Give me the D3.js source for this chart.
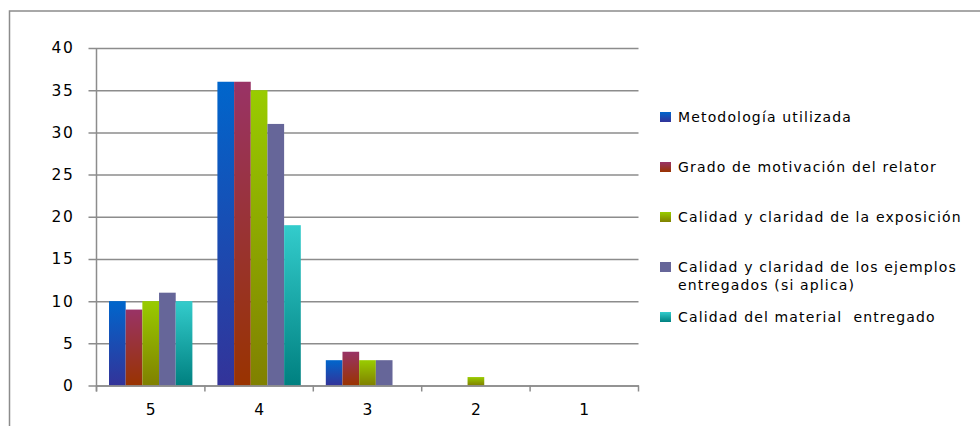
<!DOCTYPE html>
<html>
<head>
<meta charset="utf-8">
<script src="https://cdn.jsdelivr.net/npm/d3@7"></script>
<style>
  html, body { margin: 0; padding: 0; background: #fff; }
  svg { display: block; }
  text { font-family: "DejaVu Sans", Verdana, sans-serif; fill: #000; }
</style>
</head>
<body>
<svg id="chart" width="980" height="426"></svg>
<script>
// Survey ratings (5 = best) and the number of answers per aspect
const categories = ["5", "4", "3", "2", "1"];
const seriesNames = [
  "Metodología utilizada",
  "Grado de motivación del relator",
  "Calidad y claridad de la exposición",
  "Calidad y claridad de los ejemplos entregados (si aplica)",
  "Calidad del material  entregado"
];
const metodologia = [10, 36, 3, 0, 0];
const motivacion  = [9, 36, 4, 0, 0];
const exposicion  = [10, 35, 3, 1, 0];
const ejemplos    = [11, 31, 3, 0, 0];
const material    = [10, 19, 0, 0, 0];
const yTicks = [0, 5, 10, 15, 20, 25, 30, 35, 40];

const seriesValues = [metodologia, motivacion, exposicion, ejemplos, material];
// gradient colours per series: top → bottom
const gradients = [
  ["#0066cc", "#333399"],
  ["#993366", "#993300"],
  ["#99cc00", "#808000"],
  ["#666699", "#666699"],
  ["#33cccc", "#008080"]
];
// legend text is wrapped by hand where it runs long
const legendLines = [
  ["Metodología utilizada"],
  ["Grado de motivación del relator"],
  ["Calidad y claridad de la exposición"],
  ["Calidad y claridad de los ejemplos", "entregados (si aplica)"],
  ["Calidad del material\u00a0\u00a0entregado"]
];

const svg = d3.select("#chart");
const axisColor = "#8c8c8c";

// outer chart frame
svg.append("rect")
  .attr("x", 9.5).attr("y", 11)
  .attr("width", 1000).attr("height", 500)
  .attr("fill", "none").attr("stroke", axisColor).attr("stroke-width", 1.5);

const plot = { left: 96.5, right: 638.5, top: 48, bottom: 385.5 };

const x0 = d3.scaleBand().domain(categories)
  .range([plot.left, plot.right]).paddingInner(0).paddingOuter(0);
// five bars plus a 150% gap within each category
const x1 = d3.scaleBand().domain(d3.range(seriesNames.length))
  .range([0, x0.bandwidth()]).paddingInner(0).paddingOuter(0.75);
const y = d3.scaleLinear().domain([0, 40]).range([plot.bottom, plot.top]);

// gradient definitions
const defs = svg.append("defs");
gradients.forEach((g, i) => {
  const lg = defs.append("linearGradient").attr("id", "grad" + i)
    .attr("x1", 0).attr("y1", 0).attr("x2", 0).attr("y2", 1);
  lg.append("stop").attr("offset", "0%").attr("stop-color", g[0]);
  lg.append("stop").attr("offset", "100%").attr("stop-color", g[1]);
});

// horizontal gridlines with left ticks
const yAxis = d3.axisLeft(y).tickValues(yTicks)
  .tickSize(-(plot.right - plot.left)).tickSizeOuter(0);
const gy = svg.append("g").attr("transform", `translate(${plot.left},0)`).call(yAxis);
gy.select(".domain").remove();
gy.selectAll(".tick line").attr("stroke", axisColor).attr("stroke-width", 1.5)
  .attr("x1", -8);
gy.selectAll(".tick text").attr("font-size", 15.5).attr("letter-spacing", 1.6)
  .attr("x", -22);

// bars
const groups = svg.append("g").selectAll("g")
  .data(categories).join("g")
  .attr("transform", d => `translate(${x0(d)},0)`);
groups.selectAll("rect")
  .data((c, ci) => seriesValues.map((vals, si) => ({ si, v: vals[ci] })))
  .join("rect")
  .attr("x", d => x1(d.si))
  .attr("width", x1.bandwidth())
  .attr("y", d => y(d.v))
  .attr("height", d => y(0) - y(d.v))
  .attr("fill", d => `url(#grad${d.si})`);

// vertical axis line
svg.append("line")
  .attr("x1", plot.left).attr("x2", plot.left)
  .attr("y1", plot.top).attr("y2", plot.bottom + 6)
  .attr("stroke", axisColor).attr("stroke-width", 1.5);

// category axis with ticks between categories
const xAxis = d3.axisBottom(x0).tickSize(0).tickPadding(18);
const gx = svg.append("g").attr("transform", `translate(0,${plot.bottom})`).call(xAxis);
gx.select(".domain").attr("stroke", axisColor).attr("stroke-width", 1.5);
gx.selectAll(".tick text").attr("font-size", 15.5);
const bounds = categories.map(c => x0(c)).concat([x0(categories[categories.length - 1]) + x0.bandwidth()]);
gx.selectAll(".sep").data(bounds).join("line").attr("class", "sep")
  .attr("x1", d => d).attr("x2", d => d)
  .attr("y1", 0).attr("y2", 6)
  .attr("stroke", axisColor).attr("stroke-width", 1.5);

// legend
const legendY = [117, 167, 217, 267, 317];
const legend = svg.append("g");
legendLines.forEach((lines, i) => {
  const g = legend.append("g").attr("transform", `translate(660,${legendY[i]})`);
  g.append("rect").attr("x", 0).attr("y", -5).attr("width", 11).attr("height", 10)
    .attr("fill", `url(#grad${i})`);
  const t = g.append("text").attr("x", 18).attr("font-size", 14)
    .attr("letter-spacing", 1.15);
  lines.forEach((ln, k) => {
    t.append("tspan").attr("x", 18).attr("dy", k === 0 ? "0.35em" : 18).text(ln);
  });
});
</script>
</body>
</html>
